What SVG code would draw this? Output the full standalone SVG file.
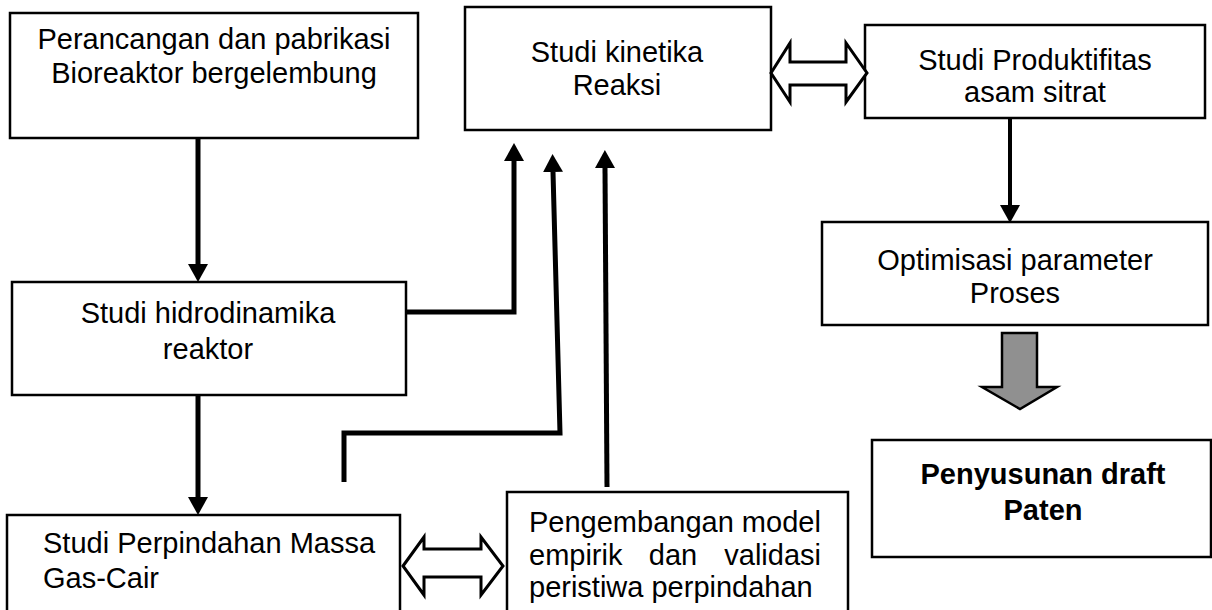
<svg xmlns="http://www.w3.org/2000/svg" width="1212" height="610" viewBox="0 0 1212 610">
<style>
.box{fill:#fff;stroke:#000;stroke-width:2.5}
.t{font-family:"Liberation Sans",Arial,sans-serif;font-size:29px;fill:#000}
.c{text-anchor:middle}
.b{font-weight:bold}
.ln{fill:none;stroke:#000;stroke-width:5}
.dbl{fill:#fff;stroke:#000;stroke-width:3;stroke-linejoin:miter}
</style>
<defs>
<marker id="ah" markerUnits="userSpaceOnUse" markerWidth="20" markerHeight="20" refX="0" refY="10" orient="auto">
<path d="M0,0 L18,10 L0,20 Z" fill="#000"/>
</marker>
</defs>
<rect width="1212" height="610" fill="#fff"/>
<g id="n1">
<rect class="box" x="10" y="13" width="408" height="125"/>
<text class="t c" x="214" y="49">Perancangan dan pabrikasi</text>
<text class="t c" x="214" y="83">Bioreaktor bergelembung</text>
</g>
<g id="n2">
<rect class="box" x="465" y="7" width="306" height="123"/>
<text class="t c" x="617" y="62">Studi kinetika</text>
<text class="t c" x="617" y="95">Reaksi</text>
</g>
<g id="n3">
<rect class="box" x="865" y="25" width="340" height="93"/>
<text class="t c" x="1035" y="70">Studi Produktifitas</text>
<text class="t c" x="1035" y="102">asam sitrat</text>
</g>
<g id="n4">
<rect class="box" x="12" y="282" width="394" height="113"/>
<text class="t c" x="208" y="323">Studi hidrodinamika</text>
<text class="t c" x="208" y="359">reaktor</text>
</g>
<g id="n5">
<rect class="box" x="822" y="222" width="386" height="103"/>
<text class="t c" x="1015" y="270">Optimisasi parameter</text>
<text class="t c" x="1015" y="303">Proses</text>
</g>
<g id="n6">
<rect class="box" x="872" y="440" width="339" height="117"/>
<text class="t c b" x="1043" y="484">Penyusunan draft</text>
<text class="t c b" x="1043" y="520">Paten</text>
</g>
<g id="n7">
<rect class="box" x="7" y="515" width="393" height="110"/>
<text class="t" x="43" y="553">Studi Perpindahan Massa</text>
<text class="t" x="43" y="588">Gas-Cair</text>
</g>
<g id="n8">
<rect class="box" x="507" y="492" width="341" height="130"/>
<text class="t" x="529" y="532">Pengembangan model</text>
<text class="t" x="529" y="565">empirik</text>
<text class="t c" x="673" y="565">dan</text>
<text class="t" x="821" y="565" text-anchor="end">validasi</text>
<text class="t" x="529" y="597">peristiwa perpindahan</text>
</g>
<g id="connectors">
<path class="ln" d="M198,138 V264" marker-end="url(#ah)"/>
<path class="ln" d="M198,395 V497" marker-end="url(#ah)"/>
<path class="ln" d="M406,312 H514 V161" marker-end="url(#ah)"/>
<path class="ln" d="M344,482 V433 H560 L553,172" marker-end="url(#ah)"/>
<path class="ln" d="M607,487 L605,168" marker-end="url(#ah)"/>
<path class="ln" style="stroke-width:4" d="M1010,118 V205" marker-end="url(#ah)"/>
<polygon class="dbl" points="771,73 790,43 790,62 846,62 846,43 867,73 846,102 846,85 790,85 790,102"/>
<polygon class="dbl" points="403,566 424,537 424,549 481,549 481,537 503,566 481,595 481,577 424,577 424,595"/>
<polygon points="1002,333 1037,333 1037,387 1057,387 1020,409 982,387 1002,387" fill="#909090" stroke="#000" stroke-width="2.5" stroke-linejoin="miter"/>
</g>
</svg>
